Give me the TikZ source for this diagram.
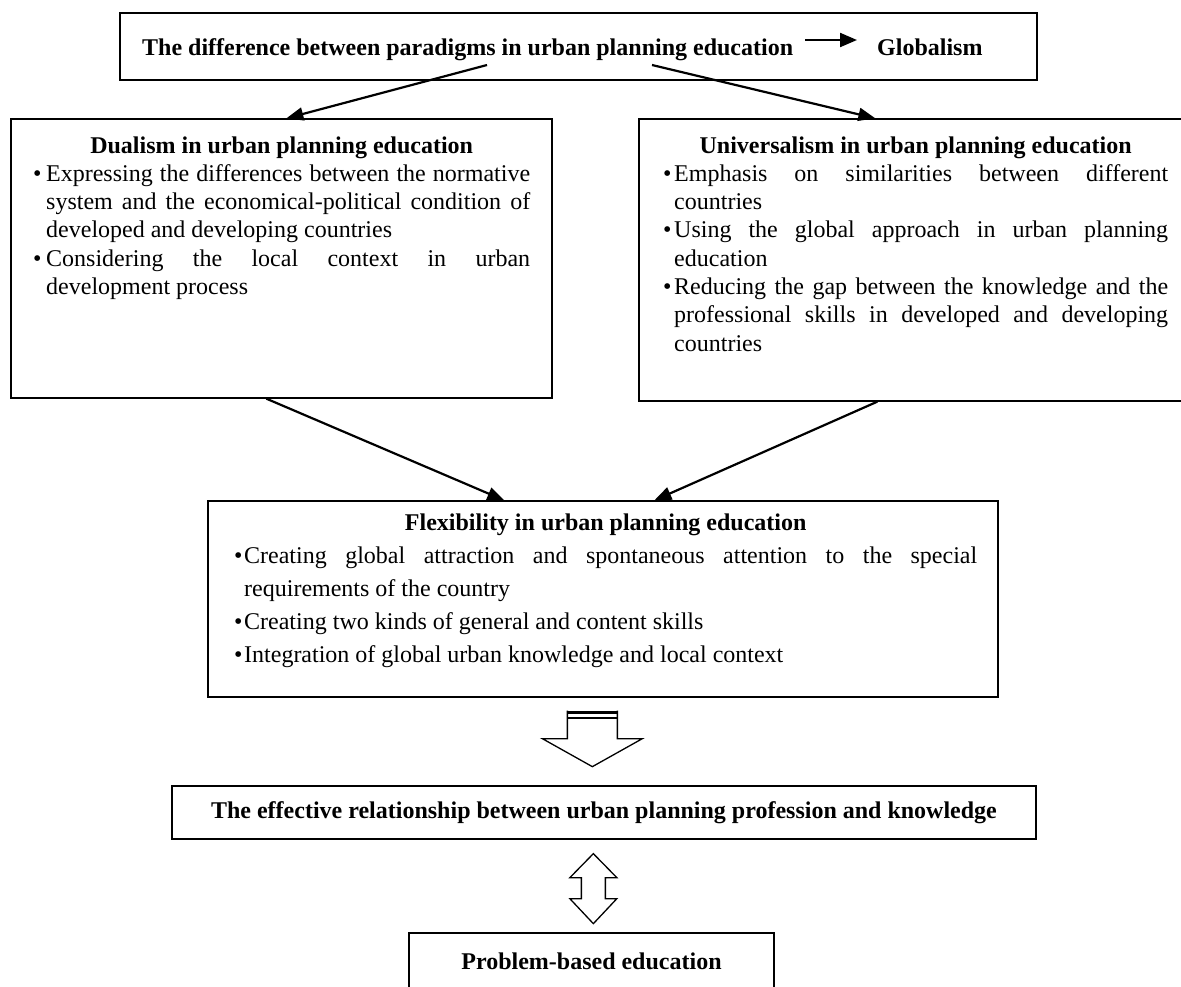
\documentclass[tikz,border=0pt]{standalone}
\usepackage{fontspec}
\setmainfont{Liberation Serif}
\usetikzlibrary{arrows.meta,calc}
\newcommand\bitem[2]{\par\noindent\hangindent=#1\relax\hangafter=1\relax\makebox[#1][l]{\textbullet}#2\par}
\newcommand\boxsetup{\tolerance=10000\relax\hyphenpenalty=10000\relax\emergencystretch=0pt\relax}
\begin{document}
\begin{tikzpicture}[x=1pt,y=-1pt,
  box/.style={draw, line width=1.3pt, inner sep=0pt},
  conn/.style={line width=2.2pt, -{Triangle[length=17pt,width=13pt]}},
  boldtxt/.style={inner sep=0pt, font=\fontsize{24}{28.3}\selectfont\bfseries},
  bodytxt/.style={inner sep=0pt, font=\fontsize{24}{28.3}\selectfont},
  flextxt/.style={inner sep=0pt, font=\fontsize{24}{33}\selectfont},
  blk/.style={draw, line width=1.3pt, fill=white, line join=miter}]
\useasboundingbox (0,0) rectangle (1181,986);
\fill[white] (0,0) rectangle (1181,986);

% top box
\node[box, minimum width=917pt, minimum height=67pt] (top) at (578.5,46.5) {};
\node[boldtxt, anchor=base west] (tdiff) at (142,55) {The difference between paradigms in urban planning education};
\node[boldtxt, anchor=base west] (glob) at (877,55) {Globalism};
\draw[line width=2.2pt, -{Triangle[length=17pt,width=14pt]}] ($(tdiff.base east)+(12,-15)$) -- ($(glob.base west)+(-20,-15)$);

% Dualism
\node[box, minimum width=541pt, minimum height=279pt] (dual) at (281.5,258.5) {};
\node[bodytxt, anchor=base west] (dualtxt) at (33,153) {\begin{minipage}[t]{497pt}\boxsetup
\centerline{\bfseries Dualism in urban planning education}
\bitem{13pt}{Expressing the differences between the normative\linebreak system and the economical-political condition of\linebreak developed and developing countries}
\bitem{13pt}{Considering the local context in urban\linebreak development process}\end{minipage}};

% Universalism
\node[box, minimum width=549pt, minimum height=282pt] (univ) at (913.5,260) {};
\node[bodytxt, anchor=base west] (univtxt) at (663,153) {\begin{minipage}[t]{505pt}\boxsetup
\centerline{\bfseries Universalism in urban planning education}
\bitem{11pt}{Emphasis on similarities between different\linebreak countries}
\bitem{11pt}{Using the global approach in urban planning\linebreak education}
\bitem{11pt}{Reducing the gap between the knowledge and the\linebreak professional skills in developed and developing\linebreak countries}\end{minipage}};

% Flexibility
\node[box, minimum width=790pt, minimum height=196pt] (flex) at (603,599) {};
\node[flextxt, anchor=base west] (flextxt) at (234,530) {\begin{minipage}[t]{743pt}\boxsetup
\centerline{\bfseries Flexibility in urban planning education}
\bitem{10pt}{Creating global attraction and spontaneous attention to the special\linebreak requirements of the country}
\bitem{10pt}{Creating two kinds of general and content skills}
\bitem{10pt}{Integration of global urban knowledge and local context}\end{minipage}};

% Effective relationship
\node[box, boldtxt, draw, minimum width=864pt, minimum height=53pt] (eff) at (604,812.5) {The effective relationship between urban planning profession and knowledge};

% Problem-based
\node[box, boldtxt, draw, minimum width=365pt, minimum height=57pt] (prob) at (591.5,961.5) {Problem-based education};

% connectors
\coordinate (s1) at (487,65);
\coordinate (s2) at (652,65);
\draw[conn] (s1) -- ($(dual.north west)+(276,0)$);
\draw[conn] (s2) -- ($(univ.north west)+(237,0)$);
\draw[conn] ($(dual.south west)+(256,0)$) -- ($(flex.north west)+(297,0)$);
\draw[conn] ($(univ.south west)+(239,0)$) -- ($(flex.north west)+(447,0)$);

% block arrow flex -> eff
\coordinate (ba) at ($(flex.south west)+(385,13)$);
\begin{scope}[shift={(ba)}]
\draw[blk] (-25,0) -- (-25,28) -- (-50,28) -- (0,56) -- (50,28) -- (25,28) -- (25,0);
\draw[line width=3pt] (-25.6,1.5) -- (25.6,1.5);
\draw[line width=1.6pt] (-25,7.5) -- (25,7.5);
\end{scope}

% double arrow eff <-> prob
\coordinate (da) at ($(eff.south west)+(422,14)$);
\begin{scope}[shift={(da)}]
\draw[blk] (0,0) -- (23.5,24) -- (12,24) -- (12,45) -- (23.5,45) -- (0,70) -- (-23.5,45) -- (-12,45) -- (-12,24) -- (-23.5,24) -- cycle;
\end{scope}
\end{tikzpicture}
\end{document}
